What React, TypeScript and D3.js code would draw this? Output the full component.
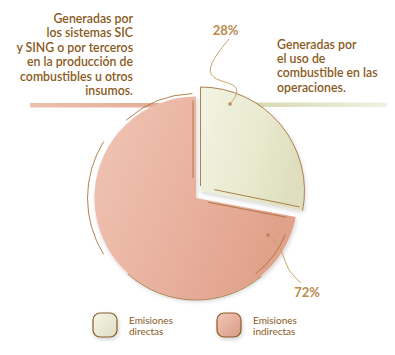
import React from "react";
import * as d3 from "d3";

const categories = ["Emisiones directas", "Emisiones indirectas"];
const values = [28, 72];
const pctLabels = ["28%", "72%"];
const leftText = [
  "Generadas por",
  "los sistemas SIC",
  "y SING o por terceros",
  "en la producción de",
  "combustibles u otros",
  "insumos.",
];
const rightText = ["Generadas por", "el uso de", "combustible en las", "operaciones."];
const legendLines = [["Emisiones", "directas"], ["Emisiones", "indirectas"]];

const W = 395;
const H = 355;
const cx = 196;
const cy = 198;
const R = 101.5;
const R2 = 104;
const explode = [4.5, -7];
const BROWN = "#a8743c";
const TEXT = "#8a5a1c";
const PCT = "#bb8a4c";
const LEADER = "#c9a06c";

const deg = (d: number) => (d * Math.PI) / 180;

function arcSeg(x: number, y: number, r: number, t0: number, t1: number) {
  const p = d3.path();
  const a0 = deg(t0) - Math.PI / 2;
  const a1 = deg(t1) - Math.PI / 2;
  p.moveTo(x + r * Math.cos(a0), y + r * Math.sin(a0));
  p.arc(x, y, r, a0, a1, t1 < t0);
  return p.toString();
}

export default function App() {
  const pie = d3.pie<number>().sort(null).value((d) => d);
  const arcs = pie(values);
  const bigArc = d3.arc<any>().innerRadius(0).outerRadius(R);
  const smallArc = d3.arc<any>().innerRadius(0).outerRadius(R2);
  const split = arcs[0].endAngle; // radians, clockwise from top
  const splitDeg = (split * 180) / Math.PI;
  const sx = cx + explode[0];
  const sy = cy + explode[1];

  const line = d3.line<[number, number]>().curve(d3.curveBasis);
  const leader28: [number, number][] = [
    [229, 39],
    [216, 55],
    [208, 70],
    [214, 80],
    [236, 84],
    [238, 94],
    [230, 104],
  ];
  const leader72: [number, number][] = [
    [268, 235],
    [279, 244],
    [284, 258],
    [289, 272],
    [301, 283],
  ];

  const legendX = [93, 217];

  return (
    <div style={{ position: "absolute", left: 0, top: 0 }}>
      <svg width={W} height={H} style={{ display: "block" }}>
        <defs>
          <linearGradient id="bigG" x1="0" y1="0" x2="1" y2="0.4">
            <stop offset="0" stopColor="#f0c5b5" />
            <stop offset="0.5" stopColor="#eab4a2" />
            <stop offset="1" stopColor="#e1a28b" />
          </linearGradient>
          <linearGradient id="smallG" x1="0" y1="0" x2="1" y2="0.3">
            <stop offset="0" stopColor="#f2f3e3" />
            <stop offset="0.6" stopColor="#e9eacf" />
            <stop offset="1" stopColor="#dfdfc0" />
          </linearGradient>
          <linearGradient id="leftBar" x1="0" y1="0" x2="1" y2="0">
            <stop offset="0" stopColor="#ecc0ae" />
            <stop offset="1" stopColor="#e3a893" />
          </linearGradient>
          <linearGradient id="rightBar" x1="0" y1="0" x2="1" y2="0">
            <stop offset="0" stopColor="#d8d8b4" />
            <stop offset="1" stopColor="#f1f1e2" />
          </linearGradient>
          <linearGradient id="legG0" x1="0" y1="0" x2="1" y2="1">
            <stop offset="0" stopColor="#f5f5e8" />
            <stop offset="1" stopColor="#dedfc2" />
          </linearGradient>
          <linearGradient id="legG1" x1="0" y1="0" x2="1" y2="1">
            <stop offset="0" stopColor="#f1c8b8" />
            <stop offset="1" stopColor="#d99a84" />
          </linearGradient>
          <filter id="shadow" x="-20%" y="-20%" width="140%" height="140%">
            <feGaussianBlur in="SourceAlpha" stdDeviation="2" />
            <feOffset dx="1" dy="2" result="b" />
            <feComponentTransfer>
              <feFuncA type="linear" slope="0.18" />
            </feComponentTransfer>
            <feMerge>
              <feMergeNode />
              <feMergeNode in="SourceGraphic" />
            </feMerge>
          </filter>
        </defs>

        {/* horizontal bars */}
        <rect x={30} y={103} width={160} height={4.5} fill="url(#leftBar)" />
        <rect x={253} y={102.5} width={134} height={4.5} fill="url(#rightBar)" />

        {/* big slice */}
        <g transform={`translate(${cx},${cy})`} filter="url(#shadow)">
          <path d={bigArc(arcs[1]) || ""} fill="url(#bigG)" />
        </g>
        {/* big slice outline strokes */}
        <g fill="none" stroke={BROWN} strokeWidth={0.9}>
          <path d={arcSeg(cx, cy, R + 3, -42, -2)} />
          <path d={arcSeg(cx - 2, cy, R + 5, -122, -58)} />
          <path d={arcSeg(cx, cy, R + 0.5, 140, 222)} />
          <path d={arcSeg(cx, cy, R - 5, 112, 142)} />
          <line
            x1={cx + 12 * Math.sin(split)}
            y1={cy - 12 * Math.cos(split) + 2}
            x2={cx + 92 * Math.sin(split)}
            y2={cy - 92 * Math.cos(split) + 2}
          />
          <line x1={cx - 3} y1={cy - R + 4} x2={cx - 3} y2={cy - 20} />
        </g>

        {/* small slice */}
        <g transform={`translate(${sx},${sy})`} filter="url(#shadow)">
          <path d={smallArc(arcs[0]) || ""} fill="url(#smallG)" />
        </g>
        <g fill="none" stroke={BROWN} strokeWidth={0.9}>
          <line x1={sx} y1={sy - R2} x2={sx} y2={sy - 5} />
          <path d={arcSeg(sx, sy, R2, 0, splitDeg)} />
          <line
            x1={sx + 14 * Math.sin(split)}
            y1={sy - 14 * Math.cos(split) - 4}
            x2={sx + (R2 - 3) * Math.sin(split)}
            y2={sy - (R2 - 3) * Math.cos(split) - 3}
          />
        </g>

        {/* leaders */}
        <path d={line(leader28) || ""} fill="none" stroke={LEADER} strokeWidth={1} />
        <circle cx={230} cy={104} r={1.8} fill="#c08a58" />
        <path d={line(leader72) || ""} fill="none" stroke={LEADER} strokeWidth={1} />
        <circle cx={268} cy={235} r={1.8} fill="#c07a5e" />

        {/* percentage labels */}
        <g fontFamily="Lato, 'Open Sans', sans-serif" fontWeight={700} fontSize={13} fill={PCT}>
          <text x={225.5} y={35} textAnchor="middle">{pctLabels[0]}</text>
          <text x={307} y={297} textAnchor="middle">{pctLabels[1]}</text>
        </g>

        {/* texts */}
        <g fontFamily="Lato, 'Open Sans', sans-serif" fontWeight={600} fontSize={12.3} fill={TEXT}>
          {leftText.map((t, i) => (
            <text key={i} x={133} y={23 + i * 14.4} textAnchor="end">{t}</text>
          ))}
          {rightText.map((t, i) => (
            <text key={i} x={277} y={48.5 + i * 14.4}>{t}</text>
          ))}
        </g>

        {/* legend */}
        {categories.map((c, i) => (
          <g key={c}>
            <rect
              x={legendX[i]}
              y={313}
              width={24}
              height={24}
              rx={7}
              fill={`url(#legG${i})`}
              stroke="#8a5a2a"
              strokeWidth={1.2}
              filter="url(#shadow)"
            />
            <text
              x={legendX[i] + 36}
              fontFamily="Lato, 'Open Sans', sans-serif"
              fontSize={10}
              fill={TEXT}
            >
              <tspan x={legendX[i] + 36} y={324}>{legendLines[i][0]}</tspan>
              <tspan x={legendX[i] + 36} y={335}>{legendLines[i][1]}</tspan>
            </text>
          </g>
        ))}
      </svg>
    </div>
  );
}
